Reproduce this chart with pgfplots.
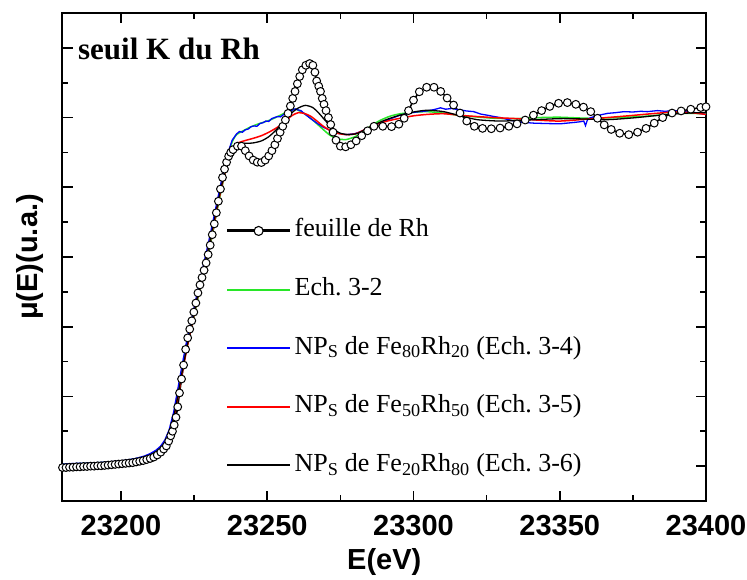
\documentclass[border=0pt]{standalone}
\usepackage{fontspec}
\setmainfont{Liberation Serif}
\newfontfamily\arialfont{Liberation Sans}
\usepackage{pgfplots}
\pgfplotsset{compat=1.18}
\definecolor{xgreen}{RGB}{40,230,40}
\newcommand\bigsans{\arialfont\bfseries\fontsize{29}{30}\selectfont}
\pgfplotsset{
  long legend/.style={legend image code/.code={%
    \draw[mark repeat=2,mark phase=2,##1,line width=2pt] plot coordinates {(0pt,0pt) (31.5pt,0pt) (63pt,0pt)};}},
  foil legend/.style={legend image code/.code={%
    \draw[mark repeat=2,mark phase=2,##1] plot coordinates {(0pt,0pt) (31.5pt,0pt) (63pt,0pt)};}},
}

\begin{document}
\frenchspacing
\begin{tikzpicture}
\begin{axis}[
  scale only axis, width=643.5pt, height=488pt,
  xmin=23180, xmax=23400, ymin=-0.1, ymax=1.3,
  xtick={23200,23250,23300,23350,23400},
  minor xtick={23225,23275,23325,23375},
  ytick={0,0.2,0.4,0.6,0.8,1.0,1.2},
  minor ytick={0.1,0.3,0.5,0.7,0.9,1.1},
  yticklabels={},
  scaled x ticks=false,
  /pgf/number format/1000 sep={},
  /pgf/number format/assume math mode=true,
  major tick length=10.5pt, minor tick length=6pt,
  axis line style={line width=2pt},
  every tick/.style={black, line width=1.6pt},
  tick label style={font=\bigsans},
  xticklabel style={inner sep=0pt, yshift=-14pt},
  xlabel={E(eV)}, ylabel={μ(E)(u.a.)},
  label style={font=\bigsans},
  xlabel style={at={(axis description cs:0.5,-0.0963)}, anchor=north, inner sep=0pt},
  ylabel style={at={(axis description cs:-0.0505,0.5)}, anchor=center, inner sep=0pt},
  legend cell align=left,
  legend style={draw=none, fill=none, inner sep=0pt, outer sep=0pt,
    at={(rel axis cs:0.2535,0.578)}, anchor=north west,
    font=\fontsize{26}{28}\selectfont,
    row sep=34.6pt, /tikz/column sep=3pt,
    nodes={inner sep=0pt, text height=18pt, text depth=6pt}},
]
% feuille de Rh
\addplot[black, line width=1.6pt, mark=*, mark size=3.9pt,
  mark options={fill=white, draw=black, line width=1pt}, forget plot] table {
23180 -0.004
23181.2 -0.004
23182.4 -0.003
23183.6 -0.003
23184.8 -0.002
23186 -0.002
23187.2 -0.001
23188.4 -0.001
23189.6 0.000
23190.8 0.000
23192 0.001
23193.2 0.001
23194.4 0.002
23195.6 0.003
23196.8 0.004
23198 0.005
23199.2 0.006
23200.4 0.007
23201.6 0.008
23202.8 0.009
23204 0.010
23205.2 0.012
23206.4 0.014
23207.6 0.016
23208.8 0.019
23210 0.022
23211.2 0.026
23212.4 0.032
23213.6 0.040
23214.6 0.049
23215.5 0.058
23216.3 0.072
23217 0.087
23217.6 0.10
23218.2 0.118
23218.8 0.14
23219.4 0.17
23220 0.21
23220.7 0.25
23221.4 0.29
23222.1 0.335
23222.8 0.368
23223.5 0.393
23224.2 0.417
23224.9 0.442
23225.6 0.468
23226.3 0.497
23227 0.52
23227.7 0.541
23228.4 0.562
23229.1 0.583
23229.8 0.607
23230.5 0.634
23231.2 0.664
23231.9 0.695
23232.6 0.727
23233.3 0.76
23234 0.795
23234.7 0.828
23235.4 0.852
23236.1 0.872
23236.8 0.889
23237.5 0.900
23238.3 0.908
23239.8 0.918
23241.2 0.918
23242.5 0.905
23243.8 0.89
23245.2 0.878
23246.6 0.872
23248 0.871
23249.3 0.878
23250.5 0.89
23251.6 0.905
23252.6 0.922
23253.5 0.94
23254.4 0.958
23255.3 0.975
23256.2 0.993
23257.1 1.012
23257.9 1.033
23258.7 1.055
23259.5 1.075
23260.3 1.097
23261.1 1.118
23262 1.137
23263.2 1.150
23264.5 1.155
23265.6 1.15
23266.3 1.13
23266.9 1.105
23267.6 1.09
23268.2 1.075
23268.8 1.055
23269.4 1.038
23270.1 1.02
23270.9 1.0
23271.7 0.98
23272.5 0.958
23273.5 0.935
23275 0.918
23276.8 0.916
23278.6 0.922
23280.4 0.933
23282.3 0.948
23284.3 0.962
23286.5 0.975
23289.5 0.975
23292.5 0.974
23295 0.981
23296.8 0.998
23298.3 1.02
23300 1.05
23302 1.074
23304.5 1.087
23307 1.087
23309.3 1.075
23311.5 1.056
23313.7 1.036
23315.9 1.013
23318.2 0.99
23320.8 0.975
23323.6 0.969
23326.6 0.968
23329.6 0.97
23332.6 0.975
23335.4 0.982
23338.2 0.993
23341 1.007
23343.8 1.02
23346.6 1.032
23349.6 1.041
23352.6 1.043
23355.5 1.038
23358.1 1.03
23360.6 1.017
23362.9 0.998
23365.2 0.979
23367.6 0.966
23370.5 0.955
23373.6 0.951
23376.6 0.958
23379.5 0.969
23382.3 0.984
23385.2 1.0
23388.4 1.013
23391.5 1.019
23394.8 1.024
23398.2 1.029
23400 1.031
};
\addlegendimage{foil legend, black, line width=3pt, mark=*, mark size=4.5pt,
  mark options={fill=white, draw=black, line width=1.1pt}}
\addlegendentry{feuille de Rh}
% Ech. 3-2
\addplot[long legend, color=xgreen, line width=1.5pt, smooth, tension=0.4] table {
23180 0.006
23185 0.007
23190 0.009
23195 0.011
23200 0.014
23205 0.021
23208 0.027
23210 0.034
23212 0.043
23213.5 0.053
23215 0.068
23216.5 0.095
23218 0.14
23219.5 0.205
23221 0.275
23222.5 0.34
23224 0.395
23226 0.47
23228 0.545
23230 0.62
23232 0.70
23234 0.78
23235.5 0.84
23236.8 0.895
23238 0.93
23239.5 0.951
23242 0.963
23244 0.972
23247 0.982
23251 0.993
23255.5 1.011
23258 1.021
23259.8 1.024
23262.4 1.013
23265 0.997
23267 0.982
23269.5 0.963
23271.5 0.949
23274 0.939
23277 0.937
23280 0.945
23282 0.955
23285 0.974
23288.6 0.992
23292 1.004
23295.5 1.011
23300 1.015
23304.6 1.017
23310 1.013
23315 1.007
23320 1.003
23327.5 0.998
23335 0.997
23343 1.0
23350 1.001
23360 0.998
23370 1.0
23378 1.003
23385 1.008
23390 1.012
23395 1.012
23400 1.011
};
\addlegendentry{Ech. 3-2}
% Fe80Rh20
\addplot[long legend, color=blue, line width=1.3pt] table {
23180 0.006
23185 0.008
23190 0.009
23195 0.012
23200 0.015
23205 0.022
23208 0.029
23210 0.036
23212 0.046
23213.5 0.057
23215 0.075
23216.5 0.105
23218 0.155
23219.5 0.225
23221 0.295
23222.5 0.36
23224 0.415
23226 0.495
23228 0.57
23230 0.645
23232 0.725
23234 0.805
23235.5 0.862
23236.8 0.905
23238 0.935
23239.5 0.953
23240.5 0.960
23241.5 0.958
23242.5 0.965
23243.5 0.967
23244.5 0.974
23245.5 0.976
23246.5 0.975
23247.5 0.983
23248.5 0.985
23249.5 0.99
23250.5 0.989
23251.5 0.997
23252.5 1.0
23253.5 1.003
23254.5 1.002
23255.5 1.008
23256.5 1.012
23257.5 1.015
23258.5 1.021
23259.5 1.025
23260.5 1.022
23261.5 1.02
23263 1.009
23265 0.996
23267 0.984
23269 0.973
23271.5 0.963
23274 0.955
23277 0.951
23280 0.954
23282 0.960
23285 0.972
23288.6 0.984
23292 0.996
23295.4 1.007
23298 1.012
23301 1.016
23304.6 1.019
23306.5 1.022
23308 1.025
23309.2 1.028
23311 1.024
23313 1.026
23316 1.022
23318 1.019
23320.6 1.017
23323 1.010
23325.1 1.007
23327.5 1.003
23329.7 1.0
23332 0.995
23335.4 0.988
23338 0.986
23341.1 0.984
23345 0.983
23350 0.982
23354.8 0.986
23357 0.988
23358.2 0.99
23358.8 0.977
23359.4 0.992
23360 0.998
23363 1.006
23366.3 1.012
23369 1.014
23372 1.017
23375 1.016
23377.7 1.018
23380 1.017
23383.4 1.02
23386 1.018
23389.1 1.02
23392 1.018
23394.8 1.017
23397 1.013
23400 1.009
};
\addlegendentry{NP\textsubscript{S} de Fe\textsubscript{80}Rh\textsubscript{20} (Ech. 3-4)}
% Fe50Rh50
\addplot[long legend, color=red, line width=1.5pt, smooth, tension=0.4] table {
23180 0.002
23185 0.003
23190 0.005
23195 0.007
23200 0.010
23205 0.016
23208 0.022
23210 0.029
23212 0.038
23213.5 0.048
23215 0.064
23216.5 0.09
23218 0.135
23219.5 0.20
23221 0.27
23222.5 0.335
23224 0.395
23226 0.475
23228 0.55
23230 0.625
23232 0.705
23234 0.785
23235.5 0.84
23236.8 0.88
23238 0.905
23239.5 0.925
23242 0.933
23245 0.94
23248 0.948
23251 0.96
23254 0.975
23256.5 0.992
23258.5 1.006
23260.6 1.014
23263 1.011
23265 1.003
23267 0.99
23269 0.976
23271.5 0.963
23274 0.955
23277 0.951
23280 0.953
23282 0.96
23285 0.972
23288.6 0.984
23292 0.992
23295.4 0.998
23300 1.005
23304.6 1.009
23310.3 1.011
23318.2 1.005
23327.3 1.0
23335.3 0.997
23342 0.993
23350 0.99
23360 0.996
23372 1.004
23380 1.01
23389 1.016
23395 1.014
23400 1.009
};
\addlegendentry{NP\textsubscript{S} de Fe\textsubscript{50}Rh\textsubscript{50} (Ech. 3-5)}
% Fe20Rh80
\addplot[long legend, color=black, line width=1.3pt, smooth, tension=0.4] table {
23180 0.004
23185 0.005
23190 0.007
23195 0.009
23200 0.012
23205 0.019
23208 0.025
23210 0.032
23212 0.041
23213.5 0.051
23215 0.067
23216.5 0.093
23218 0.14
23219.5 0.205
23221 0.275
23222.5 0.34
23224 0.40
23226 0.48
23228 0.555
23230 0.63
23232 0.71
23234 0.79
23235.5 0.845
23236.8 0.88
23238 0.905
23239.5 0.92
23242 0.926
23245 0.927
23248 0.933
23250.5 0.945
23253 0.964
23255.5 0.988
23258 1.011
23260.5 1.027
23263 1.035
23265.5 1.029
23267.5 1.014
23270 0.99
23272.5 0.968
23275 0.955
23278 0.951
23281 0.955
23284 0.968
23288.6 0.987
23292 0.998
23295.4 1.007
23300 1.016
23304.6 1.021
23310.3 1.017
23316 1.005
23321.8 0.994
23329.7 0.99
23338.8 0.993
23350.2 0.997
23358 0.996
23366.3 0.994
23375 0.999
23383.4 1.006
23392 1.012
23400 1.015
};
\addlegendentry{NP\textsubscript{S} de Fe\textsubscript{20}Rh\textsubscript{80} (Ech. 3-6)}
\node[anchor=base west, inner sep=0pt, font=\bfseries\fontsize{31}{31}\selectfont]
  at (rel axis cs:0.024,0.9037) {seuil K du Rh};
\end{axis}
\pgfresetboundingbox
\path[use as bounding box] (-62.5pt,-78pt) rectangle (684.5pt,501pt);
\end{tikzpicture}
\end{document}
